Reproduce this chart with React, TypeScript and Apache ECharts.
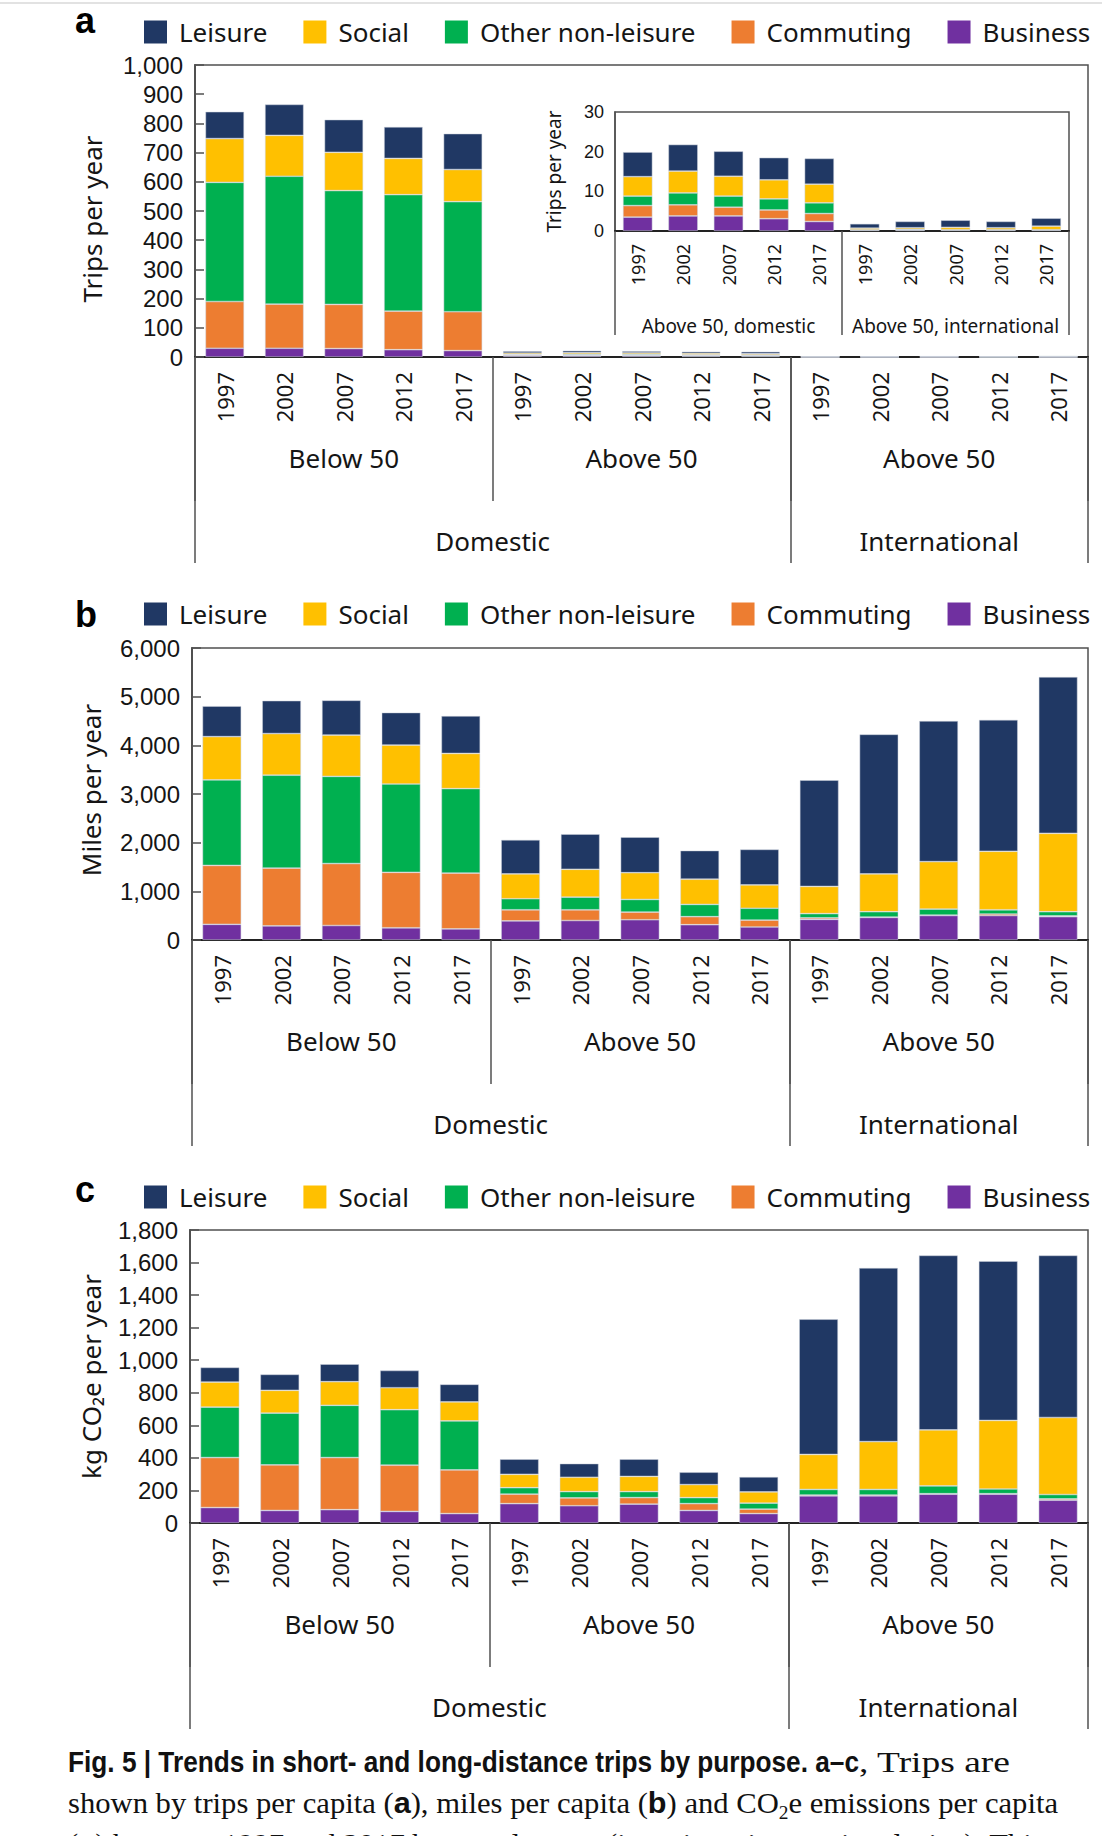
import React, { useEffect, useRef } from "react";
import * as echarts from "echarts";

// ---------- data ----------
const legendOrder = ["Leisure", "Social", "Other non-leisure", "Commuting", "Business"];
const stackOrder = ["Business", "Commuting", "Other non-leisure", "Social", "Leisure"];
const purposeColors: Record<string, string> = {
  Leisure: "#203864",
  Social: "#ffc000",
  "Other non-leisure": "#00b050",
  Commuting: "#ed7d31",
  Business: "#7030a0",
};

const years = ["1997", "2002", "2007", "2012", "2017"];
const groupLabels = ["Below 50", "Above 50", "Above 50"];
const insetGroupLabels = ["Above 50, domestic", "Above 50, international"];
const scopeLabels = ["Domestic", "International"];

// a: trips per year (Below 50 domestic, Above 50 domestic, Above 50 international)
const tripsBusiness = [30, 30, 29, 25, 22, 3.5, 3.8, 3.8, 3.1, 2.4, 0.2, 0.2, 0.2, 0.2, 0.2];
const tripsCommuting = [160, 151, 151, 132, 133, 2.9, 2.8, 2.2, 2.2, 2.0, 0.02, 0.02, 0.02, 0.02, 0.02];
const tripsOther = [408, 438, 390, 399, 377, 2.4, 3.0, 2.8, 2.8, 2.7, 0.1, 0.2, 0.1, 0.1, 0.1];
const tripsSocial = [150, 140, 131, 124, 110, 4.9, 5.5, 5.0, 4.8, 4.7, 0.4, 0.4, 0.6, 0.5, 0.9];
const tripsLeisure = [92, 106, 112, 108, 123, 6.2, 6.7, 6.3, 5.6, 6.5, 1.1, 1.6, 1.8, 1.6, 2.0];

// b: miles per year
const milesBusiness = [322, 291, 298, 251, 228, 393, 401, 416, 314, 267, 424, 464, 503, 503, 479];
const milesCommuting = [1210, 1186, 1273, 1139, 1147, 228, 220, 157, 165, 141, 32, 7, 8, 31, 16];
const milesOther = [1759, 1909, 1791, 1815, 1736, 227, 259, 260, 252, 244, 86, 110, 125, 87, 86];
const milesSocial = [888, 856, 849, 801, 722, 511, 573, 550, 518, 479, 558, 778, 974, 1202, 1611];
const milesLeisure = [628, 676, 714, 668, 770, 699, 723, 730, 589, 731, 2184, 2867, 2891, 2702, 3213];

// c: kg CO2e per year
const co2Business = [95, 77, 82, 71, 58, 119, 106, 116, 77, 58, 167, 167, 177, 177, 140];
const co2Commuting = [307, 280, 320, 284, 268, 58, 48, 40, 42, 27, 5, 5, 3, 3, 8];
const co2Other = [310, 318, 321, 341, 301, 40, 39, 37, 37, 37, 34, 34, 48, 29, 27];
const co2Social = [154, 140, 145, 135, 117, 82, 88, 93, 80, 69, 215, 294, 344, 421, 473];
const co2Leisure = [90, 98, 108, 106, 108, 93, 84, 106, 76, 92, 831, 1067, 1072, 979, 996];

const trips: Record<string, number[]> = {
  Business: tripsBusiness, Commuting: tripsCommuting, "Other non-leisure": tripsOther, Social: tripsSocial, Leisure: tripsLeisure,
};
const miles: Record<string, number[]> = {
  Business: milesBusiness, Commuting: milesCommuting, "Other non-leisure": milesOther, Social: milesSocial, Leisure: milesLeisure,
};
const co2: Record<string, number[]> = {
  Business: co2Business, Commuting: co2Commuting, "Other non-leisure": co2Other, Social: co2Social, Leisure: co2Leisure,
};

// ---------- styling ----------
const FONT = '"Noto Sans", "DejaVu Sans", sans-serif';
const TICKFONT = '"Liberation Sans", Arial, sans-serif';
const TXT = "#151515";
const LINE = "#505050";

const fmt = (v: number) => v.toLocaleString("en-US");

function buildOption() {
  const grids: any[] = [];
  const xAxes: any[] = [];
  const yAxes: any[] = [];
  const series: any[] = [];
  const legends: any[] = [];

  const scopeCats: string[] = Array.from({ length: 31 }, () => "");
  scopeCats[10] = scopeLabels[0];
  scopeCats[25] = scopeLabels[1];

  const mainPanels = [
    { grid: { left: 195, top: 65, width: 893, height: 292 }, max: 1000, interval: 100, name: "Trips per year", nameGap: 90, namePad: [0, 16, 0, 0], data: trips, legendTop: 14 },
    { grid: { left: 192, top: 648, width: 896, height: 292 }, max: 6000, interval: 1000, name: "Miles per year", nameGap: 88, namePad: [0, 0, 0, 8], data: miles, legendTop: 596 },
    { grid: { left: 190, top: 1230, width: 898, height: 293 }, max: 1800, interval: 200, name: "kg CO₂e per year", nameGap: 86, namePad: [0, 0, 0, 0], data: co2, legendTop: 1179 },
  ];

  const addBars = (gridIdx: number, xIdx: number, yIdx: number, data: Record<string, number[]>, from: number) => {
    stackOrder.forEach((p) => {
      series.push({
        type: "bar",
        name: p,
        xAxisIndex: xIdx,
        yAxisIndex: yIdx,
        stack: "s" + gridIdx,
        data: data[p].slice(from),
        barCategoryGap: "35%",
        itemStyle: { color: purposeColors[p], borderColor: "rgba(205,210,220,0.7)", borderWidth: 0.7 },
        emphasis: { disabled: true },
      });
    });
  };

  mainPanels.forEach((mp, k) => {
    const gi = grids.length;
    grids.push({ ...mp.grid, show: true, borderColor: LINE, borderWidth: 1.5, backgroundColor: "transparent" });
    const xYears = xAxes.length;
    xAxes.push({
      type: "category", gridIndex: gi, position: "bottom",
      data: [...years, ...years, ...years],
      axisLine: { show: true, lineStyle: { color: "#222", width: 2 } },
      axisTick: { show: false },
      axisLabel: { rotate: 90, interval: 0, fontSize: 22, lineHeight: 22, margin: 15, color: TXT, fontFamily: FONT },
      splitLine: { show: false },
    });
    xAxes.push({
      type: "category", gridIndex: gi, position: "bottom",
      data: groupLabels,
      axisLine: { show: false },
      axisTick: { show: true, interval: 0, length: 144, lineStyle: { color: LINE, width: 1.5 } },
      axisLabel: { interval: 0, fontSize: 26, margin: 88, color: TXT, fontFamily: FONT },
      splitLine: { show: false },
    });
    xAxes.push({
      type: "category", gridIndex: gi, position: "bottom", boundaryGap: false,
      data: scopeCats,
      axisLine: { show: false },
      axisTick: { show: true, length: 206, interval: (i: number) => i === 0 || i === 20 || i === 30, lineStyle: { color: LINE, width: 1.5 } },
      axisLabel: { interval: 0, fontSize: 26, margin: 171, color: TXT, fontFamily: FONT },
      splitLine: { show: false },
    });
    const yi = yAxes.length;
    yAxes.push({
      type: "value", gridIndex: gi, min: 0, max: mp.max, interval: mp.interval,
      axisLine: { show: true, lineStyle: { color: LINE, width: 2 } },
      axisTick: { show: true, inside: true, length: 9, lineStyle: { color: LINE, width: 1.5 } },
      axisLabel: { fontSize: 24, lineHeight: 22, margin: 12, color: TXT, fontFamily: TICKFONT, formatter: fmt },
      splitLine: { show: false },
      name: mp.name, nameLocation: "middle", nameGap: mp.nameGap,
      nameTextStyle: { fontSize: 26, color: TXT, fontFamily: FONT, padding: mp.namePad },
    });
    addBars(gi, xYears, yi, mp.data, 0);
    legends.push({
      left: 139, top: mp.legendTop, itemWidth: 23, itemHeight: 23, itemGap: 36, icon: "rect",
      data: legendOrder, selectedMode: false,
      itemStyle: { borderWidth: 0 },
      textStyle: { fontSize: 26, color: TXT, fontFamily: FONT, padding: [0, 0, 0, 7] },
    });

    if (k === 0) {
      // inset of panel a
      const ig = grids.length;
      grids.push({ left: 615, top: 112, width: 454, height: 119, show: true, borderColor: LINE, borderWidth: 1.5, backgroundColor: "transparent" });
      const ix = xAxes.length;
      xAxes.push({
        type: "category", gridIndex: ig, position: "bottom",
        data: [...years, ...years],
        axisLine: { show: true, lineStyle: { color: "#222", width: 2 } },
        axisTick: { show: false },
        axisLabel: { rotate: 90, interval: 0, fontSize: 18, lineHeight: 18, margin: 13, color: TXT, fontFamily: FONT },
        splitLine: { show: false },
      });
      xAxes.push({
        type: "category", gridIndex: ig, position: "bottom",
        data: insetGroupLabels,
        axisLine: { show: false },
        axisTick: { show: true, interval: 0, length: 104, lineStyle: { color: LINE, width: 1.5 } },
        axisLabel: { interval: 0, fontSize: 19, margin: 85, color: TXT, fontFamily: FONT },
        splitLine: { show: false },
      });
      const iy = yAxes.length;
      yAxes.push({
        type: "value", gridIndex: ig, min: 0, max: 30, interval: 10,
        axisLine: { show: true, lineStyle: { color: LINE, width: 1.5 } },
        axisTick: { show: false },
        axisLabel: { fontSize: 18, lineHeight: 18, margin: 11, color: TXT, fontFamily: TICKFONT, formatter: fmt },
        splitLine: { show: false },
        name: "Trips per year", nameLocation: "middle", nameGap: 52,
        nameTextStyle: { fontSize: 19, color: TXT, fontFamily: FONT },
      });
      addBars(ig, ix, iy, trips, 5);
    }
  });

  const panelLetter = (t: string, y: number) => ({
    type: "text", x: 75, y,
    style: { text: t, font: 'bold 36px "Liberation Sans", Arial, sans-serif', fill: "#000", verticalAlign: "middle" },
  });

  return {
    animation: false,
    backgroundColor: "transparent",
    textStyle: { fontFamily: FONT },
    grid: grids,
    xAxis: xAxes,
    yAxis: yAxes,
    legend: legends,
    series,
    graphic: [panelLetter("a", 20), panelLetter("b", 614), panelLetter("c", 1189)],
  };
}

function Caption() {
  const ref = useRef<HTMLDivElement>(null);
  useEffect(() => {
    const fit = () => {
      const root = ref.current;
      if (!root) return;
      let line2Scale = 1;
      root.querySelectorAll<HTMLElement>("[data-w]").forEach((el) => {
        el.style.transform = "none";
        const w = el.getBoundingClientRect().width;
        const t = Number(el.dataset.w);
        if (w > 0) {
          const s = t / w;
          el.style.transform = `scaleX(${s})`;
          if (el.dataset.line === "2") line2Scale = s;
        }
      });
      root.querySelectorAll<HTMLElement>("[data-same]").forEach((el) => {
        el.style.transform = `scaleX(${line2Scale})`;
      });
    };
    fit();
    (document as any).fonts?.ready?.then(fit);
  }, []);

  const serif = '"Liberation Serif", "DejaVu Serif", serif';
  const sansB = '"Liberation Sans", Arial, sans-serif';
  const base: React.CSSProperties = {
    position: "absolute", whiteSpace: "nowrap", display: "inline-block",
    transformOrigin: "0 0", fontSize: 30, lineHeight: "30px", color: "#111", fontFamily: serif,
  };
  const b: React.CSSProperties = { fontFamily: sansB, fontWeight: 700 };
  return (
    <div ref={ref} style={{ position: "absolute", left: 0, top: 0, width: 1102, height: 1836 }}>
      <span data-w="791" style={{ ...base, ...b, left: 68, top: 1747 }}>
        Fig. 5 | Trends in short- and long-distance trips by purpose. a–c
      </span>
      <span data-w="151" style={{ ...base, left: 859, top: 1747 }}>, Trips are</span>
      <span data-w="990" data-line="2" style={{ ...base, left: 68, top: 1788 }}>
        shown by trips per capita (<span style={b}>a</span>), miles per capita (<span style={b}>b</span>) and CO
        <span style={{ fontSize: 19, verticalAlign: "-6px" }}>2</span>e emissions per capita
      </span>
      <span data-same="1" style={{ ...base, left: 68, top: 1829 }}>
        (<span style={b}>c</span>) between 1997 and 2017 by travel group (inset in <span style={b}>a</span>: international trips). This
      </span>
    </div>
  );
}

export default function App() {
  const chartRef = useRef<HTMLDivElement>(null);
  useEffect(() => {
    if (!chartRef.current) return;
    const chart = echarts.init(chartRef.current, undefined, { renderer: "svg" });
    chart.setOption(buildOption() as any);
    return () => chart.dispose();
  }, []);
  return (
    <div style={{ position: "absolute", left: 0, top: 0, width: 1102, height: 1836, overflow: "hidden", background: "#fff" }}>
      <div style={{ position: "absolute", left: 0, top: 2, width: 1102, height: 2, background: "#e2e2e2" }} />
      <div ref={chartRef} style={{ position: "absolute", left: 0, top: 0, width: 1102, height: 1740 }} />
      <Caption />
    </div>
  );
}
